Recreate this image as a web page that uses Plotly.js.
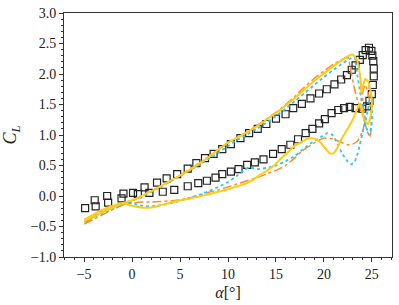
<!DOCTYPE html>
<html>
<head>
<meta charset="utf-8">
<script src="https://cdn.plot.ly/plotly-3.0.1.min.js"></script>
<style>html,body{margin:0;padding:0;background:#fff;}#chart{width:399px;height:305px;}</style>
</head>
<body>
<div id="chart"></div>
<script>
// Experimental data (open squares), ordered around the hysteresis loop
const expAlpha = [-4.9,-3.9,-2.6,-0.9,0.1,1.3,2.6,3.6,4.7,5.8,6.7,7.6,8.5,9.4,10.3,11.3,12.2,13.1,14.0,15.0,16.0,16.8,17.7,18.6,19.5,20.3,21.1,21.8,22.4,22.9,23.3,23.75,24.05,24.35,24.7,24.95,25.05,25.15,25.2,25.2,25.1,25.0,24.75,24.5,24.0,23.3,22.7,22.1,21.5,20.8,20.1,19.5,18.8,18.1,17.3,16.5,15.6,14.7,13.7,12.8,12.0,11.1,10.3,9.4,8.7,7.8,6.9,5.8,4.4,3.2,1.8,0.6,-1.1,-2.5,-3.8];
const expCL    = [-0.20,-0.07,0.00,0.04,0.05,0.14,0.22,0.29,0.36,0.45,0.54,0.62,0.69,0.77,0.85,0.95,1.03,1.10,1.18,1.27,1.34,1.44,1.51,1.60,1.68,1.75,1.83,1.91,1.98,2.07,2.14,2.23,2.31,2.39,2.43,2.38,2.30,2.21,2.09,1.96,1.82,1.67,1.56,1.47,1.43,1.44,1.46,1.44,1.41,1.36,1.26,1.19,1.10,1.03,0.93,0.84,0.77,0.69,0.60,0.55,0.51,0.44,0.40,0.36,0.30,0.25,0.21,0.16,0.10,0.07,0.05,0.03,-0.04,-0.11,-0.17];

// Model 1 (yellow solid)
const yelAlpha = [-5,-4,-3,-2,-1,0,1,2,3,4,5,6,7,8,9,10,11,12,13,14,15,16,17,18,19,20,21,22,22.6,23.0,23.4,23.7,23.85,23.9,24.05,24.3,24.6,24.85,25.0,24.9,24.6,24.2,23.8,23.4,23.0,22.4,21.8,21.4,21.0,20.6,20.2,19.6,19.0,18.3,17.6,17.0,16.2,15.5,14.8,14.0,13.0,12.0,11.0,10.0,9.0,8.0,7.0,6.0,5.0,4.0,3.0,2.0,1.0,0.0,-1.0,-2.0,-3.0,-4.0,-5.0];
const yelCL    = [-0.41,-0.34,-0.26,-0.19,-0.12,-0.07,0.00,0.08,0.16,0.25,0.34,0.43,0.53,0.64,0.76,0.88,0.96,1.05,1.14,1.25,1.36,1.48,1.61,1.75,1.89,2.01,2.13,2.24,2.30,2.32,2.25,2.05,1.85,1.68,1.78,1.92,1.88,1.74,1.55,1.33,1.18,1.25,1.52,1.40,1.25,1.08,0.93,0.79,0.70,0.70,0.77,0.88,0.94,0.94,0.88,0.83,0.71,0.61,0.50,0.41,0.31,0.21,0.16,0.11,0.07,0.03,-0.01,-0.04,-0.07,-0.11,-0.15,-0.19,-0.19,-0.16,-0.12,-0.16,-0.22,-0.30,-0.39];

// Model 2 (cyan dotted)
const cyaAlpha = [-5,-4,-3,-2,-1,0,1,2,3,4,5,6,7,8,9,10,11,12,13,14,15,16,17,18,19,20,21,22,22.7,23.2,23.35,23.5,23.7,23.85,24.0,24.2,24.45,24.7,24.95,25.05,24.95,24.8,24.6,24.3,24.0,23.75,23.5,23.2,22.85,22.5,21.9,21.4,20.9,20.4,19.7,18.6,17.6,17.0,16.0,15.0,14.0,13.0,12.3,11.7,11.0,10.0,9.0,8.0,7.0,6.0,5.0,4.0,3.0,2.0,1.0,0.0,-1.0,-2.0,-3.0,-4.0,-5.0];
const cyaCL    = [-0.42,-0.35,-0.28,-0.21,-0.14,-0.08,-0.01,0.07,0.15,0.24,0.33,0.42,0.51,0.61,0.71,0.82,0.92,1.01,1.10,1.20,1.31,1.43,1.56,1.69,1.82,1.95,2.07,2.18,2.25,2.28,2.15,1.97,1.78,1.63,1.46,1.30,1.12,1.00,1.15,1.40,1.66,1.62,1.42,1.20,1.02,0.84,0.69,0.56,0.52,0.56,0.70,0.86,1.00,1.03,0.97,0.86,0.74,0.66,0.57,0.50,0.46,0.44,0.47,0.43,0.34,0.23,0.15,0.08,0.02,-0.03,-0.08,-0.12,-0.15,-0.17,-0.16,-0.12,-0.12,-0.17,-0.24,-0.32,-0.41];

// Model 3 (orange dash-dot)
const orgAlpha = [-5,-4,-3,-2,-1,0,1,2,3,4,5,6,7,8,9,10,11,12,13,14,15,16,17,18,19,20,21,21.8,22.5,22.8,23.2,23.5,24.0,24.55,24.8,24.95,24.85,24.6,24.3,24.05,24.1,24.3,24.0,23.5,23.0,22.5,21.8,21.0,20.0,19.0,18.3,17.6,17.0,16.0,15.0,14.0,13.0,12.0,11.0,10.0,9.0,8.0,7.0,6.0,5.0,4.0,3.0,2.0,1.0,0.0,-1.0,-2.0,-3.0,-4.0,-5.0];
const orgCL    = [-0.46,-0.38,-0.30,-0.22,-0.15,-0.08,0.00,0.08,0.16,0.25,0.34,0.44,0.54,0.65,0.76,0.87,0.96,1.05,1.15,1.26,1.37,1.50,1.64,1.79,1.93,2.05,2.16,2.23,2.27,2.05,1.75,1.57,1.33,1.05,0.97,1.15,1.45,1.70,1.82,1.70,1.45,1.25,1.05,0.90,0.85,0.84,0.88,0.93,0.95,0.87,0.80,0.72,0.63,0.50,0.42,0.36,0.30,0.25,0.20,0.15,0.10,0.06,0.01,-0.03,-0.06,-0.08,-0.09,-0.10,-0.10,-0.11,-0.14,-0.19,-0.26,-0.34,-0.44];

const xTickVals = [-5,0,5,10,15,20,25];
const yTickVals = [-1.0,-0.5,0.0,0.5,1.0,1.5,2.0,2.5,3.0];

const traces = [
  {x: expAlpha, y: expCL, mode: 'markers', type: 'scatter',
   marker: {symbol: 'square-open', size: 7, color: '#222', line: {width: 1.2, color: '#222'}}},
  {x: orgAlpha, y: orgCL, mode: 'lines', type: 'scatter',
   line: {color: '#FF8C2A', width: 1.5, dash: 'dashdot', shape: 'spline', smoothing: 0.5}},
  {x: cyaAlpha, y: cyaCL, mode: 'lines', type: 'scatter',
   line: {color: '#2EC4F5', width: 1.8, dash: 'dot', shape: 'spline', smoothing: 0.5}},
  {x: yelAlpha, y: yelCL, mode: 'lines', type: 'scatter',
   line: {color: '#FFCC11', width: 2, shape: 'spline', smoothing: 0.5}}
];

const fontFam = 'Liberation Serif, DejaVu Serif, serif';
const layout = {
  width: 399, height: 305,
  margin: {l: 64, r: 7, t: 13, b: 48},
  paper_bgcolor: '#fff', plot_bgcolor: '#fff',
  showlegend: false,
  font: {family: fontFam, size: 14, color: '#222'},
  xaxis: {
    range: [-7.1, 27.1], tickvals: xTickVals, showgrid: false, zeroline: false,
    showline: true, mirror: true, linecolor: '#333', linewidth: 1,
    ticks: 'outside', ticklen: 4, tickwidth: 1, tickcolor: '#333',
    minor: {dtick: 1, tick0: 0, ticks: 'outside', ticklen: 2, tickcolor: '#333', showgrid: false},
    tickfont: {family: fontFam, size: 14, color: '#222'},
    title: {text: '<i>α</i>[°]', font: {family: fontFam, size: 16, color: '#222'}, standoff: 6}
  },
  yaxis: {
    range: [-1, 3], tickvals: yTickVals, tickformat: '.1f', showgrid: false, zeroline: false,
    showline: true, mirror: true, linecolor: '#333', linewidth: 1,
    ticks: 'outside', ticklen: 4, tickwidth: 1, tickcolor: '#333',
    minor: {dtick: 0.1, tick0: 0, ticks: 'outside', ticklen: 2, tickcolor: '#333', showgrid: false},
    tickfont: {family: fontFam, size: 14, color: '#222'},
    title: {text: '<i>C</i><sub><i>L</i></sub>', font: {family: fontFam, size: 18, color: '#222'}, standoff: 10}
  }
};

Plotly.newPlot('chart', traces, layout, {staticPlot: true, displayModeBar: false});
</script>
</body>
</html>
